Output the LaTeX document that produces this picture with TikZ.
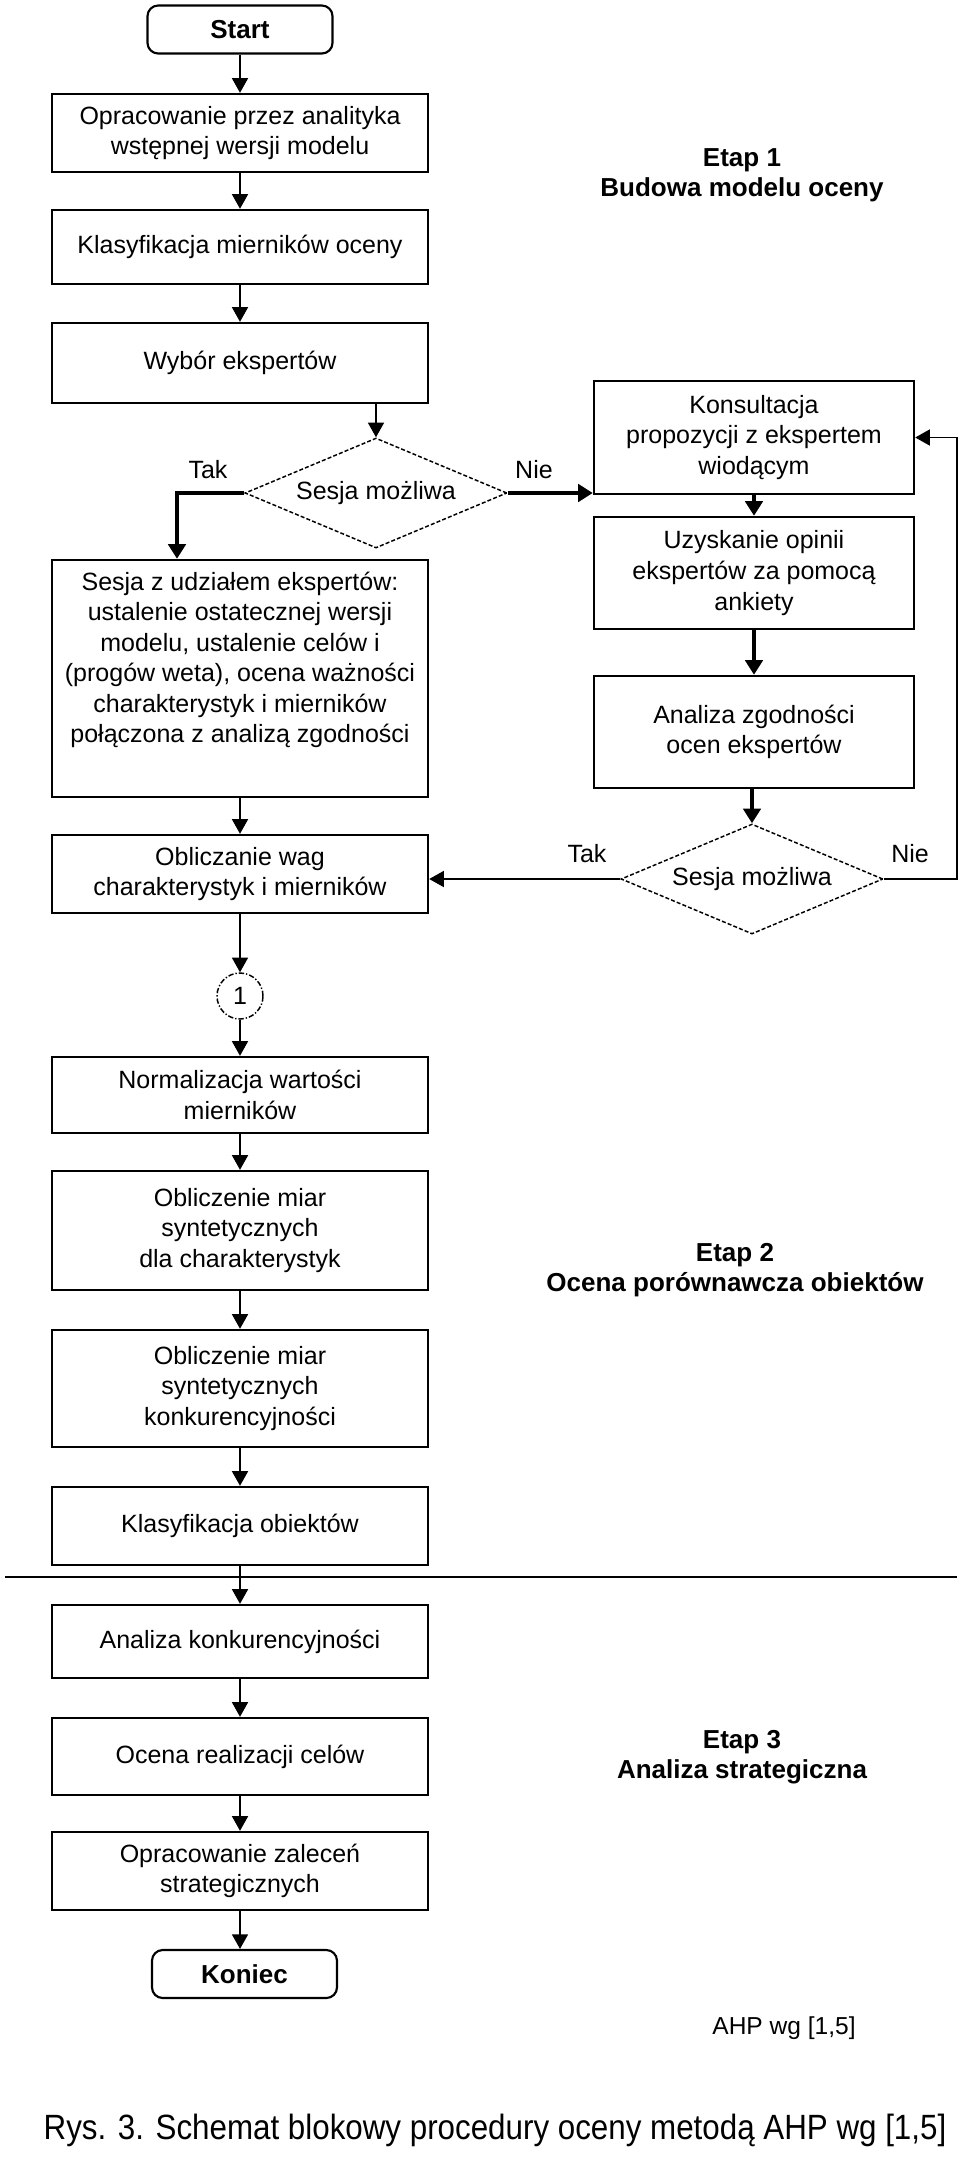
\documentclass[tikz,border=0pt]{standalone}
\usepackage{fontspec}
\setmainfont{Liberation Sans}
\usetikzlibrary{arrows.meta,shapes.geometric}
\newcommand\pxu{*0.75pt}
\newcommand\bxfont{\fontsize{18.75pt}{22.9pt}\selectfont}
\newcommand\lbfont{\fontsize{19.5pt}{22.5pt}\selectfont\bfseries}
\begin{document}
\begin{tikzpicture}[x=0.75pt,y=-0.75pt,
  box/.style={draw, line width=1.8pt, minimum width=376\pxu, inner sep=0pt, align=center, font=\bxfont},
  rbox/.style={draw, line width=1.8pt, minimum width=320\pxu, inner sep=0pt, align=center, font=\bxfont},
  term/.style={draw, line width=1.6pt, rounded corners=8pt, minimum width=185\pxu, minimum height=48\pxu, inner sep=0pt, font=\lbfont},
  decision/.style={diamond, draw, line width=1.1pt, dash pattern=on 3pt off 1.6pt, shape aspect=2.4, inner sep=0pt, minimum width=262\pxu, minimum height=110\pxu, font=\bxfont},
  conn/.style={draw, circle, line width=1.1pt, dash pattern=on 4pt off 1.5pt on 1pt off 1.5pt, minimum size=46\pxu, inner sep=0pt, font=\bxfont},
  arr/.style={line width=1.3pt, -{Triangle[length=11pt,width=12pt]}},
  tarr/.style={line width=3pt, -{Triangle[length=11pt,width=13pt]}},
  tline/.style={line width=1.3pt},
  lbl/.style={font=\bxfont},
  stage/.style={font=\lbfont, align=center}
]
\useasboundingbox (0,0) rectangle (960,2160);
\fill[white] (0,0) rectangle (960,2160);

% left column
\node[term] (start) at (240,29.5) {Start};
\node[box, minimum height=78\pxu] (b1) at (240,133) {Opracowanie przez analityka\\wstępnej wersji modelu};
\node[box, minimum height=74\pxu] (b2) at (240,247) {Klasyfikacja mierników oceny};
\node[box, minimum height=80\pxu] (b3) at (240,363) {Wybór ekspertów};
\node[decision] (d1) at (376,493) {Sesja możliwa};
\node[box, minimum height=237\pxu] (b4) at (240,678.5) {};
\node[align=center, font=\bxfont, inner sep=0pt] (b4t) at (240,660) {Sesja z udziałem ekspertów:\\ustalenie ostatecznej wersji\\modelu, ustalenie celów i\\(progów weta), ocena ważności\\charakterystyk i mierników\\połączona z analizą zgodności};
\node[box, minimum height=78\pxu] (b5) at (240,874) {Obliczanie wag\\charakterystyk i mierników};
\node[conn] (c1) at (240,996) {1};
\node[box, minimum height=76\pxu] (norm) at (240,1095) {Normalizacja wartości\\mierników};
\node[box, minimum height=119\pxu] (ob1) at (240,1230.5) {Obliczenie miar\\syntetycznych\\dla charakterystyk};
\node[box, minimum height=117\pxu] (ob2) at (240,1388.5) {Obliczenie miar\\syntetycznych\\konkurencyjności};
\node[box, minimum height=78\pxu] (klo) at (240,1526) {Klasyfikacja obiektów};
\node[box, minimum height=73\pxu] (ak) at (240,1641.5) {Analiza konkurencyjności};
\node[box, minimum height=77\pxu] (orc) at (240,1756.5) {Ocena realizacji celów};
\node[box, minimum height=78\pxu] (oz) at (240,1871) {Opracowanie zaleceń\\strategicznych};
\node[term] (koniec) at (244.5,1974) {Koniec};

% right column
\node[rbox, minimum height=113\pxu] (kons) at (754,437.5) {Konsultacja\\propozycji z ekspertem\\wiodącym};
\node[rbox, minimum height=112\pxu] (uzy) at (754,573) {Uzyskanie opinii\\ekspertów za pomocą\\ankiety};
\node[rbox, minimum height=112\pxu] (anal) at (754,732) {Analiza zgodności\\ocen ekspertów};
\node[decision] (d2) at (752,879) {Sesja możliwa};

% helper coordinates
\coordinate (tk) at (177,0);
\coordinate (lp) at (957,0);

% connectors
\draw[arr] (start) -- (b1);
\draw[arr] (b1) -- (b2);
\draw[arr] (b2) -- (b3);
\draw[arr] (b3.south -| d1.north) -- (d1.north);
\draw[tarr] (d1.west) -| (b4.north -| tk);
\draw[tarr] (d1.east) -- (d1.east -| kons.west);
\draw[arr] (b4) -- (b5);
\draw[arr] (b5) -- (c1);
\draw[arr] (c1) -- (norm);
\draw[arr] (norm) -- (ob1);
\draw[arr] (ob1) -- (ob2);
\draw[arr] (ob2) -- (klo);
\draw[arr] (klo) -- (ak);
\draw[arr] (ak) -- (orc);
\draw[arr] (orc) -- (oz);
\draw[arr] (oz.south) -- (oz.south |- koniec.north);
\draw[tarr] (kons) -- (uzy);
\draw[tarr] (uzy) -- (anal);
\draw[tarr] (anal.south -| d2.north) -- (d2.north);
\draw[arr] (d2.west) -- (d2.west -| b5.east);
\draw[arr] (d2.east) -- (d2.east -| lp) |- (kons.east);

% labels
\node[lbl] (tak1) at (208,470) {Tak};
\node[lbl] (nie1) at (534,470) {Nie};
\node[lbl] (tak2) at (587,854) {Tak};
\node[lbl] (nie2) at (910,854) {Nie};

% divider
\draw[line width=1.1pt] (5,1577) -- (957,1577);

% stage labels
\node[stage] (e1) at (742,175) {Etap 1\\Budowa modelu oceny};
\node[stage] (e2) at (735,1270) {Etap 2\\Ocena porównawcza obiektów};
\node[stage] (e3) at (742,1757) {Etap 3\\Analiza strategiczna};

\node[font=\fontsize{18.4pt}{22pt}\selectfont] (src) at (784,2028) {AHP wg [1,5]};
\node[inner sep=0pt] (cap) at (495,2130) {\scalebox{1}[1.12]{\fontsize{23.5pt}{28pt}\selectfont Rys. 3. Schemat blokowy procedury oceny metodą AHP wg [1,5]}};
\end{tikzpicture}
\end{document}
